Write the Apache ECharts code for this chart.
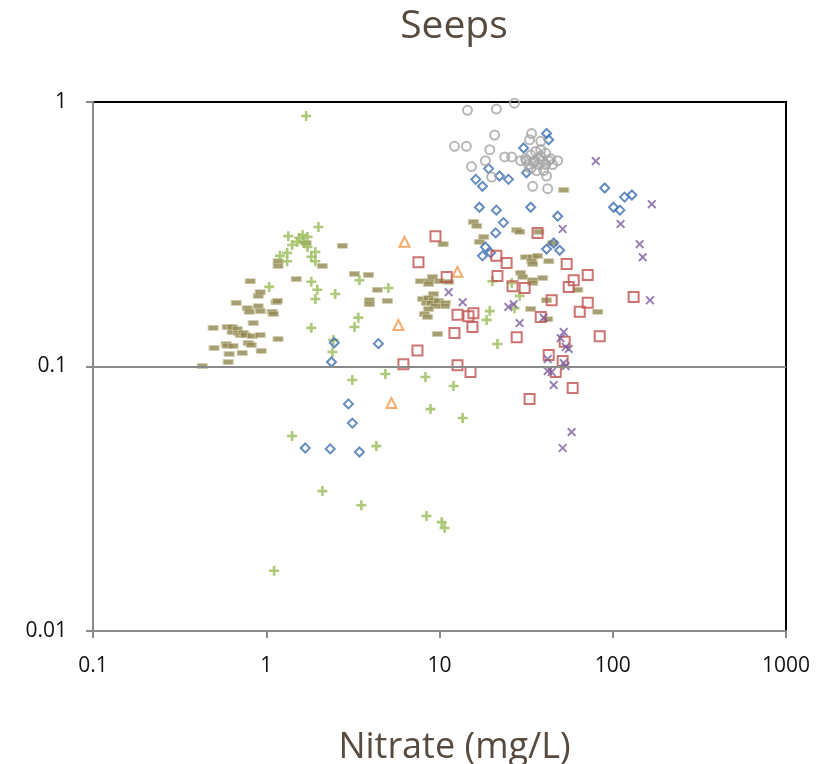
<!DOCTYPE html>
<html>
<head>
<meta charset="utf-8">
<script src="https://cdn.jsdelivr.net/npm/echarts@6/dist/echarts.min.js"></script>
<style>html,body{margin:0;padding:0;background:#fff;}#c{width:828px;height:764px;}</style>
</head>
<body>
<div id="c"></div>
<script>
const titleText = 'Seeps';
const xAxisTitle = 'Nitrate (mg/L)';
const xTicks = [0.1, 1, 10, 100, 1000];
const yTicks = [0.01, 0.1, 1];

const oliveDashes = [
[0.427,0.1004],[0.494,0.140],[0.5,0.1175],[0.587,0.1216],[0.595,0.1196],[0.595,0.141],[0.603,0.104],[0.611,0.1115],
[0.636,0.141],[0.636,0.135],[0.644,0.1196],[0.671,0.174],[0.68,0.1387],[0.689,0.134],[0.708,0.1315],[0.727,0.1125],
[0.736,0.134],[0.756,0.1315],[0.777,0.166],[0.787,0.1227],[0.798,0.161],[0.808,0.21],[0.819,0.1206],[0.83,0.1303],
[0.841,0.146],[0.899,0.185],[0.899,0.169],[0.923,0.191],[0.923,0.162],[0.923,0.1315],[0.936,0.1145],[1.08,0.161],
[1.10,0.158],[1.14,0.175],[1.16,0.177],[1.17,0.25],[1.17,0.24],[1.17,0.127],[1.49,0.214],[1.70,0.293],
[2.11,0.24],[2.75,0.286],[3.23,0.224],[3.89,0.222],[4.38,0.195],[3.94,0.178],[3.94,0.172],[5.0,0.177],
[7.77,0.21],[8.75,0.21],[9.11,0.218],[10,0.21],[11.3,0.209],[8.64,0.205],[9.23,0.188],[7.98,0.18],
[8.64,0.1815],[9.23,0.178],[8.41,0.174],[8.99,0.174],[9.87,0.177],[10.8,0.174],[10.7,0.169],[9.48,0.169],
[8.64,0.165],[8.19,0.158],[8.52,0.154],[9.73,0.1327],[10.5,0.29],
[15.7,0.352],[16.4,0.34],[18,0.309],[17,0.296],[27.9,0.328],[29,0.323],[37.4,0.323],[45,0.293],
[31.4,0.259],[34.5,0.259],[36.8,0.262],[34,0.25],[34.5,0.244],[42.7,0.25],[29.4,0.226],[30.2,0.218],
[34.5,0.212],[34.5,0.207],[39.4,0.216],[62.8,0.195],[41.5,0.178],[33.6,0.165],[81.9,0.161],[42.1,0.151],[52.1,0.465]
];

const greenPluses = [
[1.70,0.885],[2.0,0.337],[1.34,0.311],[1.55,0.306],[1.62,0.314],[1.73,0.309],[1.51,0.296],[1.66,0.293],
[1.41,0.288],[1.73,0.283],[1.92,0.271],[1.32,0.269],[1.2,0.262],[1.82,0.26],[1.92,0.25],[1.32,0.25],
[1.82,0.209],[1.97,0.195],[1.04,0.2],[1.92,0.18],[2.5,0.188],[3.45,0.212],[3.4,0.153],[3.23,0.141],
[1.82,0.14],[2.44,0.126],[2.41,0.1135],[5.07,0.198],[18.7,0.15],[19.5,0.162],[20.2,0.21],[26.1,0.207],
[29,0.185],[27.1,0.166],[21.6,0.1216],[3.14,0.0889],[4.87,0.0937],[8.3,0.0913],[12.05,0.0844],[8.87,0.069],
[13.6,0.0639],[1.41,0.0546],[4.32,0.05],[2.11,0.0338],[3.54,0.0299],[8.41,0.0272],[10.3,0.0258],[10.7,0.0245],[1.11,0.0169]
];

const blueDiamonds = [
[41.5,0.76],[42.7,0.72],[30.6,0.67],[19.2,0.56],[22.2,0.525],[25,0.51],[16.2,0.51],[17.7,0.48],
[31.8,0.54],[17,0.40],[21.3,0.39],[33.6,0.40],[48.1,0.37],[23.4,0.35],[21.1,0.32],[18.4,0.283],
[17.7,0.262],[19.7,0.269],[41.5,0.278],[45.6,0.293],[49.4,0.275],[2.47,0.123],[2.38,0.104],[4.44,0.122],
[2.98,0.0722],[3.14,0.0611],[1.68,0.0492],[2.34,0.0488],[3.45,0.0475],[89.9,0.473],[117,0.437],[129,0.445],[101,0.40],[110,0.39]
];

const orangeTriangles = [[6.28,0.296],[12.7,0.228],[5.79,0.1435],[5.28,0.0728]];

const redSquares = [
[9.48,0.311],[7.56,0.248],[11,0.218],[21.3,0.262],[24.4,0.246],[21.6,0.22],[26.4,0.201],[31,0.198],
[36.8,0.32],[54.2,0.244],[71.7,0.222],[59.5,0.212],[55.7,0.2],[44.4,0.178],[71.7,0.174],[64.5,0.161],
[38.4,0.154],[84.1,0.130],[27.9,0.129],[132,0.183],[15.5,0.141],[12.7,0.157],[14.7,0.155],[15.7,0.159],
[12.2,0.134],[7.46,0.115],[6.19,0.102],[12.7,0.101],[15.1,0.0953],[33.1,0.0754],[52.8,0.124],[42.7,0.1105],
[51.4,0.105],[46.9,0.0953],[58.7,0.083]
];

const purpleCrosses = [
[79.8,0.598],[51.4,0.331],[11.3,0.191],[13.6,0.175],[25,0.168],[26.8,0.172],[29,0.146],[39.9,0.153],
[52.1,0.135],[50,0.128],[53.5,0.1185],[55.7,0.1165],[42.1,0.1067],[52.1,0.103],[53.5,0.1004],[42.1,0.0961],
[44.4,0.0953],[45.6,0.0851],[57.9,0.0565],[51.4,0.0492],[168,0.411],[111,0.346],[143,0.290],[149,0.259],[164,0.178]
];

const grayCircles = [
[14.5,0.93],[21.3,0.94],[27.1,0.99],[20.8,0.75],[34,0.76],[33.1,0.72],[38.4,0.71],[12.2,0.68],
[14.3,0.68],[19.5,0.66],[23.8,0.62],[26.1,0.62],[18.4,0.60],[15.3,0.57],[20,0.52],[34.5,0.48],
[42.1,0.47],[41.5,0.525],[48.1,0.60],[29.4,0.60],[31.8,0.60],
[31.4,0.61],[33.6,0.63],[35.9,0.65],[38.4,0.66],[41,0.64],[37.4,0.61],[39.4,0.60],[42.7,0.60],
[34.9,0.59],[37.4,0.58],[41,0.58],[43.8,0.61],[32.7,0.58],[36.4,0.55],[39.9,0.55],[38.4,0.625],
[35.4,0.60],[45,0.58],[33.6,0.56]
];

const FONT = '"Open Sans", "Noto Sans", sans-serif';
const plusPath = 'path://M3.7,0H6.3V3.7H10V6.3H6.3V10H3.7V6.3H0V3.7H3.7Z';
const crossPath = 'path://M1.5,0L5,3.5L8.5,0L10,1.5L6.5,5L10,8.5L8.5,10L5,6.5L1.5,10L0,8.5L3.5,5L0,1.5Z';

function hollow(color) {
  return { color: 'rgba(0,0,0,0)', borderColor: color, borderWidth: 2 };
}

const chart = echarts.init(document.getElementById('c'), null, { renderer: 'canvas' });
chart.setOption({
  animation: false,
  backgroundColor: '#fff',
  title: {
    text: titleText, left: 449, top: 2, textAlign: 'center',
    textStyle: { fontFamily: FONT, fontSize: 39, fontWeight: 'normal', color: '#574a3f' }
  },
  grid: { left: 93, top: 102, right: 42, bottom: 133, outerBoundsMode: 'none', containLabel: false,
    show: true, borderColor: '#000', borderWidth: 2, backgroundColor: 'transparent' },
  xAxis: {
    type: 'log', logBase: 10, min: xTicks[0], max: xTicks[xTicks.length - 1],
    name: xAxisTitle, nameLocation: 'middle', nameGap: 99,
    nameTextStyle: { fontFamily: FONT, fontSize: 36, color: '#574a3f', padding: [0, 0, 0, 30] },
    axisLine: { show: true, lineStyle: { color: '#8a8a8a', width: 2 } },
    axisTick: { show: true, inside: false, length: 7, lineStyle: { color: '#8a8a8a', width: 2 } },
    axisLabel: { margin: 25, fontFamily: FONT, fontSize: 21, color: '#111',
      formatter: v => String(+v.toPrecision(6)) },
    splitLine: { show: false }, minorTick: { show: false }
  },
  yAxis: {
    type: 'log', logBase: 10, min: yTicks[0], max: yTicks[yTicks.length - 1],
    axisLine: { show: true, lineStyle: { color: '#8a8a8a', width: 2 } },
    axisTick: { show: true, inside: false, length: 7, lineStyle: { color: '#8a8a8a', width: 2 } },
    axisLabel: { margin: 26, fontFamily: FONT, fontSize: 21, color: '#111',
      formatter: v => String(+v.toPrecision(6)) },
    splitLine: { show: false }, minorTick: { show: false }
  },
  series: [
    { name: 'Olive', type: 'scatter', data: oliveDashes, symbol: 'rect', symbolSize: [10, 5],
      itemStyle: { color: '#918751', borderColor: '#cfc9a6', borderWidth: 0.8 },
      markLine: { silent: true, symbol: 'none', label: { show: false },
        lineStyle: { color: '#8a8a8a', width: 2, type: 'solid' }, data: [{ yAxis: yTicks[1] }] } },
    { name: 'Green', type: 'scatter', data: greenPluses, symbol: plusPath, symbolSize: 10,
      itemStyle: { color: '#9bbb59' } },
    { name: 'Blue', type: 'scatter', data: blueDiamonds, symbol: 'diamond', symbolSize: 9,
      itemStyle: hollow('#3e6fb0') },
    { name: 'Orange', type: 'scatter', data: orangeTriangles, symbol: 'triangle', symbolSize: 10,
      itemStyle: hollow('#f79646') },
    { name: 'Red', type: 'scatter', data: redSquares, symbol: 'rect', symbolSize: 10,
      itemStyle: hollow('#c0504d') },
    { name: 'Purple', type: 'scatter', data: purpleCrosses, symbol: crossPath, symbolSize: 9,
      itemStyle: { color: '#7a5c9e' } },
    { name: 'Gray', type: 'scatter', data: grayCircles, symbol: 'circle', symbolSize: 9,
      itemStyle: hollow('#a5a5a5') }
  ]
});
</script>
</body>
</html>
